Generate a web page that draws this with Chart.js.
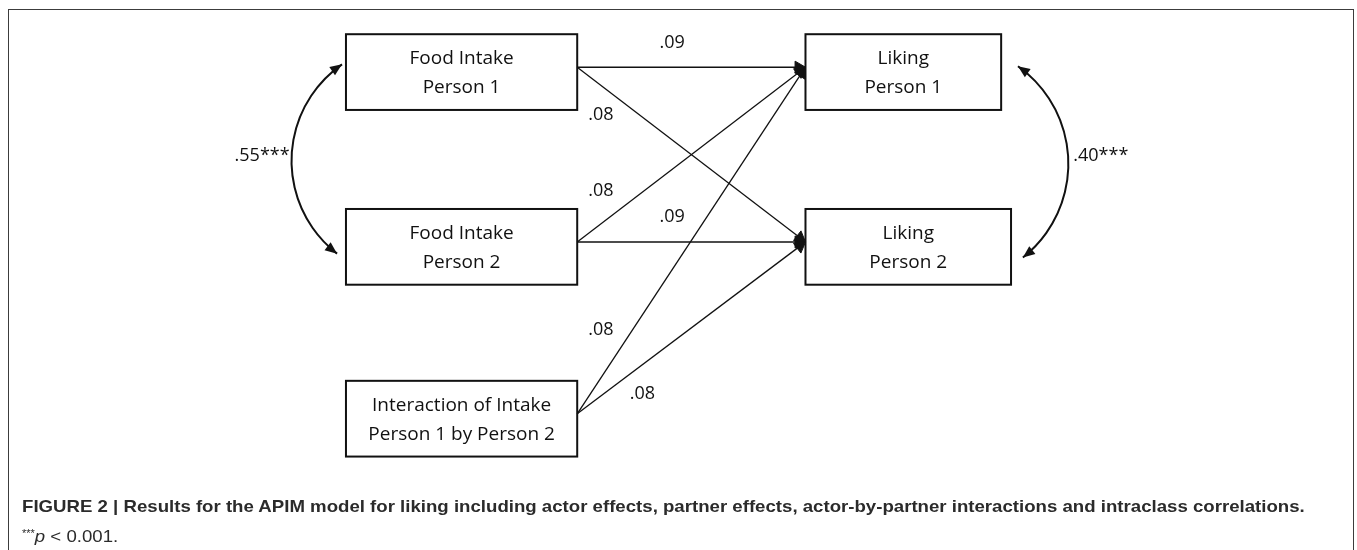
<!DOCTYPE html>
<html>
<head>
<meta charset="utf-8">
<script src="https://cdn.jsdelivr.net/npm/chart.js@4/dist/chart.umd.min.js"></script>
<style>
  body { margin: 0; background: #fff; }
  #wrap { position: relative; width: 1357px; height: 550px; overflow: hidden; }
  #frame { position: absolute; left: 8px; top: 9px; width: 1344px; height: 600px; border: 1px solid #3c3c3c; }
  #diagram { position: absolute; left: 0; top: 0; }
  .cap { position: absolute; left: 22px; font-family: "Liberation Sans", Arial, sans-serif; color: #2b2b2b;
         white-space: nowrap; transform-origin: 0 50%; line-height: 20px; font-size: 17px; }
  #cap1 { top: 497px; font-weight: bold; }
  #cap2 { top: 524px; }
  #cap2 .st { font-size: 10px; vertical-align: 5px; }
</style>
</head>
<body>
<div id="wrap">
  <div id="frame"></div>
  <canvas id="diagram" width="1357" height="550"></canvas>
  <div class="cap" id="cap1">FIGURE 2 | Results for the APIM model for liking including actor effects, partner effects, actor-by-partner interactions and intraclass correlations.</div>
  <div class="cap" id="cap2"><span class="st">***</span><i>p</i> &lt; 0.001.</div>
</div>
<script>
// APIM values
const nodeNames = [
  ["Food Intake", "Person 1"],
  ["Food Intake", "Person 2"],
  ["Interaction of Intake", "Person 1 by Person 2"],
  ["Liking", "Person 1"],
  ["Liking", "Person 2"]
];
const pathFrom = [0, 0, 1, 1, 2, 2];
const pathTo = [3, 4, 3, 4, 3, 4];
const pathCoef = [0.09, 0.08, 0.08, 0.09, 0.08, 0.08];
const corrA = [0, 3];
const corrB = [1, 4];
const corrCoef = [0.55, 0.40];
const corrStars = ["***", "***"];

// layout, in units of the hidden x / y scales
const boxes = [[342, 27, 234, 78], [342, 207, 234, 78], [342, 384, 234, 78], [807, 27, 198, 78], [807, 207, 208, 78]];
const anchorDy = 34;
const coefPos = [[672, 36], [600, 110], [600, 188], [672, 215], [600, 332], [642, 397]];
const corrArcs = [
  { top: [338, 58], mid: [287, 153], bottom: [333, 253], label: [285, 152], align: "right" },
  { top: [1022, 60], mid: [1073, 160], bottom: [1027, 257], label: [1078, 152], align: "left" }
];
const headR = 7;
const boxFont = '19px "Open Sans", sans-serif';
const numFont = '18px "Open Sans", sans-serif';

function fmt(v) { return v.toFixed(2).replace(/^0/, ""); }

// one dataset per path, arrowhead = rotated triangle point at the end
const pathSets = pathFrom.map(function (f, i) {
  const a = boxes[f], b = boxes[pathTo[i]];
  const sx = a[0] + a[2], sy = a[1] + anchorDy;
  const tx = b[0], ty = b[1] + anchorDy;
  const len = Math.hypot(tx - sx, ty - sy);
  const ux = (tx - sx) / len, uy = (ty - sy) / len;
  const rot = Math.atan2(ux, -uy) * 180 / Math.PI;
  return {
    data: [{ x: sx, y: sy }, { x: tx - ux * headR, y: ty - uy * headR }],
    showLine: true,
    borderColor: "#111",
    borderWidth: 1.3,
    backgroundColor: "#111",
    pointBorderColor: "#111",
    pointBackgroundColor: "#111",
    pointBorderWidth: 1,
    pointStyle: "triangle",
    pointRadius: [0, headR],
    pointRotation: [0, rot]
  };
});

function head(ctx, x, y, dx, dy) {
  const len = Math.hypot(dx, dy);
  dx /= len; dy /= len;
  ctx.beginPath();
  ctx.moveTo(x, y);
  ctx.lineTo(x - dx * 12 - dy * 5, y - dy * 12 + dx * 5);
  ctx.lineTo(x - dx * 12 + dy * 5, y - dy * 12 - dx * 5);
  ctx.closePath();
  ctx.fill();
}

function norm(a) { while (a < 0) a += 2 * Math.PI; while (a >= 2 * Math.PI) a -= 2 * Math.PI; return a; }

const diagramPlugin = {
  id: "diagram",
  beforeDatasetsDraw(chart) {
    const ctx = chart.ctx, X = chart.scales.x, Y = chart.scales.y;
    ctx.save();
    ctx.strokeStyle = "#111";
    ctx.lineWidth = 2;
    ctx.fillStyle = "#fff";
    boxes.forEach(function (b) {
      const x0 = X.getPixelForValue(b[0]), y0 = Y.getPixelForValue(b[1]);
      const x1 = X.getPixelForValue(b[0] + b[2]), y1 = Y.getPixelForValue(b[1] + b[3]);
      ctx.fillRect(x0, y0, x1 - x0, y1 - y0);
      ctx.strokeRect(x0, y0, x1 - x0, y1 - y0);
    });
    ctx.restore();
  },
  afterDatasetsDraw(chart) {
    const ctx = chart.ctx, X = chart.scales.x, Y = chart.scales.y;
    ctx.save();
    ctx.fillStyle = "#111";
    ctx.font = boxFont;
    ctx.textBaseline = "middle";
    ctx.textAlign = "center";
    nodeNames.forEach(function (lines, i) {
      const b = boxes[i];
      const cx = X.getPixelForValue(b[0] + b[2] / 2);
      ctx.fillText(lines[0], cx, Y.getPixelForValue(b[1] + 25));
      ctx.fillText(lines[1], cx, Y.getPixelForValue(b[1] + 55));
    });
    ctx.font = numFont;
    pathCoef.forEach(function (v, i) {
      ctx.fillText(fmt(v), X.getPixelForValue(coefPos[i][0]), Y.getPixelForValue(coefPos[i][1]));
    });

    // correlation arcs between residuals
    corrCoef.forEach(function (v, i) {
      const c = corrArcs[i];
      const p = [c.top, c.mid, c.bottom].map(function (q) { return [X.getPixelForValue(q[0]), Y.getPixelForValue(q[1])]; });
      const ax = p[0][0], ay = p[0][1], bx = p[1][0], by = p[1][1], qx = p[2][0], qy = p[2][1];
      const d = 2 * (ax * (by - qy) + bx * (qy - ay) + qx * (ay - by));
      const ox = ((ax * ax + ay * ay) * (by - qy) + (bx * bx + by * by) * (qy - ay) + (qx * qx + qy * qy) * (ay - by)) / d;
      const oy = ((ax * ax + ay * ay) * (qx - bx) + (bx * bx + by * by) * (ax - qx) + (qx * qx + qy * qy) * (bx - ax)) / d;
      const r = Math.hypot(ax - ox, ay - oy);
      const aT = Math.atan2(ay - oy, ax - ox), aM = Math.atan2(by - oy, bx - ox), aB = Math.atan2(qy - oy, qx - ox);
      const anti = !(norm(aM - aT) < norm(aB - aT));
      ctx.strokeStyle = "#111";
      ctx.lineWidth = 2;
      ctx.beginPath();
      ctx.arc(ox, oy, r, aT, aB, anti);
      ctx.stroke();
      ctx.fillStyle = "#111";
      [[ax, ay], [qx, qy]].forEach(function (t) {
        let dx = -(t[1] - oy), dy = t[0] - ox;
        if (dx * (t[0] - bx) + dy * (t[1] - by) < 0) { dx = -dx; dy = -dy; }
        head(ctx, t[0], t[1], dx, dy);
      });
      ctx.textAlign = c.align;
      ctx.fillText(fmt(v) + corrStars[i], X.getPixelForValue(c.label[0]), Y.getPixelForValue(c.label[1]));
    });
    ctx.restore();
  }
};

new Chart("diagram", {
  type: "scatter",
  data: { datasets: pathSets },
  options: {
    responsive: false,
    animation: false,
    events: [],
    layout: { padding: 0 },
    plugins: { legend: { display: false }, tooltip: { enabled: false } },
    scales: {
      x: { type: "linear", min: 0, max: 1357, display: false },
      y: { type: "linear", min: 0, max: 550, reverse: true, display: false }
    }
  },
  plugins: [diagramPlugin]
});

// squeeze the caption to the condensed width of the original
const cap1 = document.getElementById("cap1"), cap2 = document.getElementById("cap2");
const sx = 1283 / cap1.offsetWidth;
cap1.style.transform = "scaleX(" + sx + ")";
cap2.style.transform = "scaleX(" + sx + ")";
</script>
</body>
</html>
